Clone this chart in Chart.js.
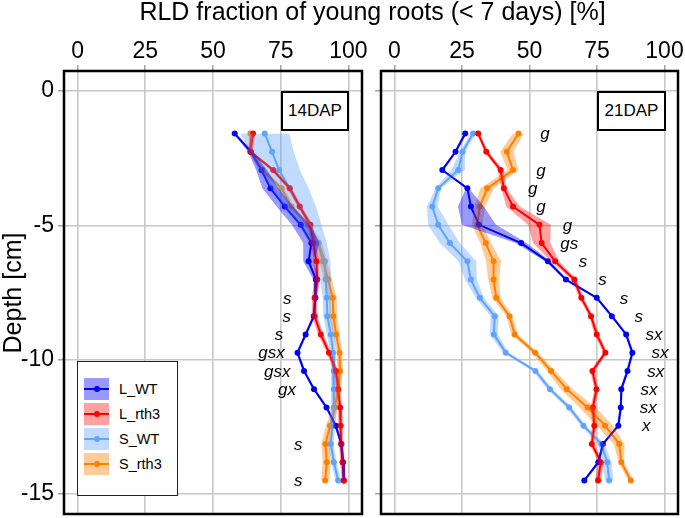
<!DOCTYPE html>
<html>
<head>
<meta charset="utf-8">
<script src="https://cdn.jsdelivr.net/npm/chart.js@4.4.1/dist/chart.umd.min.js"></script>
<style>
  body { margin: 0; background: #fff; font-family: "Liberation Sans", Arial, sans-serif; }
  #wrap { position: relative; width: 685px; height: 518px; overflow: hidden; }
  canvas { position: absolute; top: 0; }
  #title { position: absolute; left: 0; top: -4px; width: 745px; text-align: center; font-size: 25px; line-height: 30px; white-space: nowrap; }
  #ytitle { position: absolute; left: -88px; top: 278px; width: 200px; height: 30px; line-height: 30px; text-align: center; font-size: 25px; transform: rotate(-90deg); }
  .dap { position: absolute; top: 91px; height: 36px; border: 2px solid #000; background: #fff; font-size: 17px; line-height: 36px; text-align: center; }
  #legend { position: absolute; left: 77px; top: 361px; width: 99px; height: 133px; border: 1.5px solid #222; background: #fff; }
  .item { position: absolute; left: 6px; height: 22px; font-size: 14.5px; line-height: 22px; }
  .sw { position: absolute; left: 0; top: 0; width: 25px; height: 22px; }
  .sw i { position: absolute; left: 0; top: 10px; width: 25px; height: 2px; }
  .sw b { position: absolute; left: 9.5px; top: 8px; width: 6px; height: 6px; border-radius: 3px; }
  .item span.t { position: absolute; left: 35px; top: 0; white-space: nowrap; }
</style>
</head>
<body>
<div id="wrap">
  <canvas id="left" width="380" height="518" style="left:0;width:380px;height:518px"></canvas>
  <canvas id="right" width="315" height="518" style="left:370px;width:315px;height:518px"></canvas>
  <div id="title">RLD fraction of young roots (&lt; 7 days) [%]</div>
  <div id="ytitle">Depth [cm]</div>
  <div class="dap" style="left:281px;width:64px">14DAP</div>
  <div class="dap" style="left:597px;width:65px">21DAP</div>
  <div id="legend"></div>
</div>
<script>
  // depth of each layer (cm)
  const depth = [-1.58, -2.26, -2.94, -3.62, -4.30, -4.98, -5.66, -6.34, -7.02, -7.70,
                 -8.38, -9.06, -9.74, -10.42, -11.10, -11.78, -12.46, -13.14, -13.82, -14.50];
  const xTicks = [0, 25, 50, 75, 100];
  const yTicks = [0, -5, -10, -15];

  const seriesNames = ['L_WT', 'L_rth3', 'S_WT', 'S_rth3'];
  const lineColors = ['#0000F0', '#FF0000', '#62A6FF', '#FF8000'];
  const bandColors = ['rgba(0,0,255,0.4)', 'rgba(255,0,0,0.37)', 'rgba(90,160,255,0.38)', 'rgba(255,128,0,0.4)'];

  // 14DAP
  const lwt14  = [58.0, 64.0, 67.9, 71.2, 76.5, 82.4, 86.3, 85.3, 88.0, 87.8, 87.2, 84.2, 81.2, 83.6, 87.3, 91.9, 95.3, 97.4, 98.0, 98.3];
  const lrth14 = [64.8, 63.8, 72.2, 78.3, 82.0, 86.0, 87.0, 88.2, 88.5, 87.5, 87.5, 89.8, 92.8, 95.4, 96.2, 96.9, 97.1, 97.3, 97.8, 98.3];
  const swt14  = [69.1, 71.8, 74.4, 78.3, 82.0, 85.7, 89.0, 91.3, 91.6, 92.0, 92.2, 93.5, 94.3, 94.6, 94.6, 94.6, 94.1, 93.5, 94.6, 96.2];
  const srth14 = [63.8, 63.8, 68.3, 75.3, 79.0, 85.1, 88.8, 90.6, 92.5, 94.2, 94.4, 95.5, 96.7, 96.9, 96.2, 95.0, 93.2, 91.5, 92.0, 91.4];
  // half widths of the shaded bands
  const lwt14Err  = [0.5, 1.0, 2.0, 3.0, 3.0, 3.3, 3.0, 2.0, 1.0, 0.5, 0.5, 0.5, 0.5, 0.5, 0.5, 0.5, 0.5, 0.5, 0.5, 0.5];
  const lrth14Err = [0.8, 0.8, 0.8, 0.8, 0.8, 0.8, 1.0, 1.0, 1.0, 1.0, 1.0, 1.0, 0.8, 0.8, 0.8, 0.8, 0.8, 0.8, 0.8, 0.8];
  const swt14Err  = [9.0, 8.0, 7.7, 7.0, 6.0, 4.3, 3.0, 2.0, 2.0, 1.5, 1.5, 1.5, 1.0, 1.0, 1.0, 1.0, 1.0, 1.0, 1.0, 1.0];
  const srth14Err = [0.5, 0.8, 1.0, 1.0, 1.0, 1.0, 1.5, 1.5, 1.5, 1.5, 1.5, 1.2, 1.0, 1.0, 1.0, 1.2, 1.5, 1.5, 1.5, 1.5];

  // 21DAP
  const lwt21  = [26.2, 22.6, 17.7, 27.0, 28.3, 31.3, 46.9, 56.8, 63.5, 74.9, 80.5, 85.8, 88.1, 86.3, 84.0, 83.8, 82.9, 77.2, 75.5, 70.3];
  const lrth21 = [31.0, 34.0, 39.3, 40.5, 43.9, 53.7, 54.5, 59.5, 66.6, 69.2, 72.8, 74.9, 78.1, 73.3, 74.8, 73.5, 74.0, 73.1, 76.4, 75.4];
  const swt21  = [29.1, 25.2, 23.6, 16.2, 14.0, 16.2, 20.5, 27.0, 28.3, 31.6, 37.1, 36.8, 41.2, 52.2, 57.6, 64.7, 70.0, 76.6, 78.8, 79.5];
  const srth21 = [45.9, 41.6, 43.9, 34.3, 31.6, 30.6, 33.8, 36.7, 36.7, 37.7, 42.6, 44.5, 52.1, 58.0, 63.8, 71.5, 78.0, 83.2, 84.0, 87.5];
  const lwt21Err  = [0.5, 0.5, 0.5, 0.5, 4.8, 6.3, 2.0, 1.0, 0.5, 0.5, 0.5, 0.5, 0.5, 0.5, 0.5, 0.5, 0.5, 0.5, 0.5, 0.5];
  const lrth21Err = [0.5, 0.8, 1.0, 1.0, 2.5, 4.2, 3.2, 1.5, 1.0, 0.8, 0.8, 0.8, 0.8, 0.8, 0.8, 0.8, 0.8, 0.8, 1.0, 1.2];
  const swt21Err  = [1.0, 1.0, 2.5, 1.0, 2.0, 3.8, 3.7, 3.3, 2.2, 1.5, 1.5, 1.5, 1.0, 1.0, 1.0, 1.0, 1.0, 1.2, 1.6, 1.6];
  const srth21Err = [2.0, 2.5, 2.0, 2.5, 2.0, 2.0, 2.0, 2.8, 2.0, 1.5, 1.2, 1.2, 1.2, 1.5, 2.2, 3.0, 3.0, 2.0, 1.0, 1.0];

  // significance letters: layer index, text, x position
  const sig14Rows = [9, 10, 11, 12, 13, 14, 17, 19];
  const sig14Text = ['s', 's', 's', 'gsx', 'gsx', 'gx', 's', 's'];
  const sig14X    = [79.0, 78.8, 75.9, 76.5, 78.6, 80.6, 83.0, 83.0];
  const sig21Rows = [0, 2, 3, 4, 5, 6, 7, 8, 9, 10, 11, 12, 13, 14, 15, 16];
  const sig21Text = ['g', 'g', 'g', 'g', 'g', 'gs', 's', 's', 's', 's', 'sx', 'sx', 'sx', 'sx', 'sx', 'x'];
  const sig21X    = [54.0, 52.5, 49.4, 52.5, 62.3, 61.4, 68.2, 75.5, 83.4, 88.9, 93.0, 95.2, 93.6, 91.1, 90.8, 91.7];

  Chart.defaults.font.family = '"Liberation Sans", Arial, sans-serif';
  Chart.defaults.color = '#000';

  function pts(vals, off, sign) {
    return depth.map((d, i) => ({ x: vals[i] + sign * (off ? off[i] : 0), y: d }));
  }

  function buildDatasets(means, errs) {
    const sets = [];
    // bands first in the list so they paint over the lines
    means.forEach((m, k) => {
      sets.push({ data: pts(m, errs[k], -1), borderWidth: 0, pointRadius: 0, fill: false, order: 0 });
      sets.push({ data: pts(m, errs[k], 1), borderWidth: 0, pointRadius: 0, fill: '-1',
                  backgroundColor: bandColors[k], order: 0 });
    });
    [1, 0, 2, 3].forEach(k => {
      sets.push({ data: pts(means[k], null, 0), borderColor: lineColors[k], backgroundColor: lineColors[k],
                  borderWidth: 2, pointRadius: 3, pointBorderWidth: 0, fill: false, order: 1 });
    });
    return sets;
  }

  const framePlugin = {
    id: 'frame',
    afterDraw(chart) {
      const { ctx, chartArea: a } = chart;
      ctx.save();
      ctx.strokeStyle = '#000';
      ctx.lineWidth = 2.5;
      ctx.strokeRect(a.left, a.top, a.right - a.left, a.bottom - a.top);
      ctx.restore();
    }
  };

  const sigPlugin = {
    id: 'sig',
    afterDatasetsDraw(chart, args, opts) {
      const { ctx, scales } = chart;
      ctx.save();
      ctx.font = 'italic 17px "Liberation Sans", Arial, sans-serif';
      ctx.fillStyle = '#000';
      ctx.textAlign = opts.align;
      ctx.textBaseline = 'middle';
      opts.rows.forEach((r, i) => {
        ctx.fillText(opts.texts[i], scales.x.getPixelForValue(opts.xs[i]), scales.y.getPixelForValue(depth[r]) + 1);
      });
      ctx.restore();
    }
  };

  function noPad(s) {
    s.paddingTop = 0; s.paddingBottom = 0; s.paddingLeft = 0; s.paddingRight = 0;
  }

  function makeOptions(yWidth, showYLabels, pad, sig) {
    return {
      responsive: false,
      animation: false,
      events: [],
      indexAxis: 'y',
      layout: { padding: pad },
      plugins: {
        legend: { display: false },
        tooltip: { enabled: false },
        filler: { drawTime: 'beforeDatasetDraw' },
        sig: sig
      },
      scales: {
        x: {
          type: 'linear', position: 'top', min: -5, max: 105,
          afterBuildTicks: s => { s.ticks = xTicks.map(v => ({ value: v })); },
          afterFit: s => { s.height = 71; noPad(s); },
          grid: { color: '#c8c8c8', lineWidth: 1.6, tickLength: 6, tickColor: '#8c8c8c', tickWidth: 1.2 },
          border: { display: false },
          ticks: { font: { size: 23 }, color: '#000', padding: 0, maxRotation: 0, autoSkip: false }
        },
        y: {
          type: 'linear', position: 'left', min: -15.75, max: 0.75,
          afterBuildTicks: s => { s.ticks = yTicks.map(v => ({ value: v })); },
          afterFit: s => { s.width = yWidth; noPad(s); },
          grid: { color: '#c8c8c8', lineWidth: 1.6, tickLength: 6, tickColor: '#8c8c8c', tickWidth: 1.2 },
          border: { display: false },
          ticks: { display: showYLabels, font: { size: 23 }, color: '#000', padding: 4, autoSkip: false }
        }
      }
    };
  }

  new Chart(document.getElementById('left'), {
    type: 'line',
    data: { datasets: buildDatasets([lwt14, lrth14, swt14, srth14], [lwt14Err, lrth14Err, swt14Err, srth14Err]) },
    options: makeOptions(64, true, { left: 0, right: 18, top: 0, bottom: 3 },
                         { rows: sig14Rows, texts: sig14Text, xs: sig14X, align: 'right' }),
    plugins: [sigPlugin, framePlugin]
  });

  new Chart(document.getElementById('right'), {
    type: 'line',
    data: { datasets: buildDatasets([lwt21, lrth21, swt21, srth21], [lwt21Err, lrth21Err, swt21Err, srth21Err]) },
    options: makeOptions(11, false, { left: 0, right: 7, top: 0, bottom: 3 },
                         { rows: sig21Rows, texts: sig21Text, xs: sig21X, align: 'left' }),
    plugins: [sigPlugin, framePlugin]
  });

  // legend
  const legend = document.getElementById('legend');
  seriesNames.forEach((name, k) => {
    const item = document.createElement('div');
    item.className = 'item';
    item.style.top = (16 + k * 25) + 'px';
    item.innerHTML = '<span class="sw" style="background:' + bandColors[k] + '">' +
      '<i style="background:' + lineColors[k] + '"></i><b style="background:' + lineColors[k] + '"></b></span>' +
      '<span class="t">' + name + '</span>';
    legend.appendChild(item);
  });
</script>
</body>
</html>
